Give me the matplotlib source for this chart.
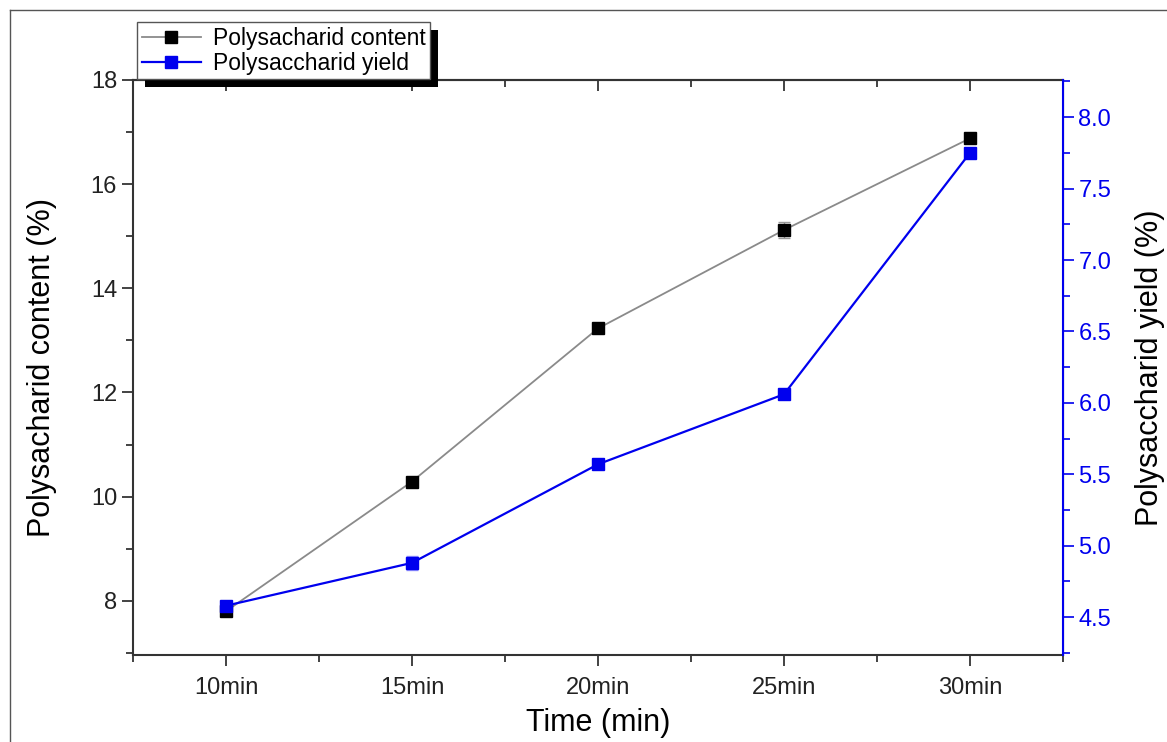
import numpy as np
import matplotlib
matplotlib.use("Agg")
import matplotlib.pyplot as plt
from matplotlib.lines import Line2D
from matplotlib.patches import Rectangle
from matplotlib.ticker import MultipleLocator, FixedLocator

plt.rcParams['font.family'] = ['Liberation Sans', 'DejaVu Sans']

#%% Datos
tiempos = ['10min', '15min', '20min', '25min', '30min']
contenido = [7.80, 10.29, 13.23, 15.12, 16.88]
contenido_err = [0.05, 0.05, 0.08, 0.15, 0.06]
rendimiento = [4.58, 4.88, 5.57, 6.06, 7.75]
rendimiento_err = [0.03, 0.05, 0.02, 0.02, 0.03]

azul = '#0000ee'
x = np.arange(len(tiempos))

#%% Figura
fig = plt.figure(figsize=(11.67, 7.42), dpi=100)
ax = fig.add_axes([133/1167, 87/742, 930/1167, 575/742])
ax2 = ax.twinx()

ax.errorbar(x, contenido, yerr=contenido_err, color='#8a8a8a', lw=1.3,
            marker='s', ms=9, mfc='black', mec='black', ecolor='#999999',
            capsize=4, elinewidth=1, zorder=3)
ax2.errorbar(x, rendimiento, yerr=rendimiento_err, color=azul, lw=1.6,
             marker='s', ms=9, mfc=azul, mec=azul, ecolor='#9999ff',
             capsize=4, elinewidth=1, zorder=3)

ax.set_xlim(-0.5, 4.5)
ax.set_ylim(6.96, 18)
ax2.set_ylim(4.235, 8.26)

ax.set_xticks(x)
ax.set_xticklabels(tiempos)
ax.xaxis.set_minor_locator(FixedLocator(np.arange(-0.5, 4.6, 1)))
ax.yaxis.set_major_locator(MultipleLocator(2))
ax.yaxis.set_minor_locator(MultipleLocator(1))
ax2.yaxis.set_major_locator(MultipleLocator(0.5))
ax2.yaxis.set_minor_locator(MultipleLocator(0.25))
ax2.yaxis.set_major_formatter(plt.FormatStrFormatter('%.1f'))

ax.tick_params(axis='both', which='major', direction='out', length=8, width=1.2,
               labelsize=17, colors='#222222')
ax.tick_params(axis='both', which='minor', direction='out', length=5, width=1.2,
               colors='#222222')
ax.tick_params(axis='x', which='major', pad=8)
ax2.tick_params(axis='y', which='major', direction='out', length=8, width=1.2,
                labelsize=17, colors=azul, pad=3)
ax2.tick_params(axis='y', which='minor', direction='out', length=5, width=1.2,
                colors=azul)

# ticks hacia adentro en el eje superior
top = ax.secondary_xaxis('top')
top.set_xticks(x)
top.xaxis.set_minor_locator(FixedLocator(np.arange(-0.5, 4.6, 1)))
top.tick_params(which='major', direction='in', length=8, width=1.2,
                labeltop=False, colors='#222222')
top.tick_params(which='minor', direction='in', length=5, width=1.2,
                colors='#222222')
top.spines['top'].set_linewidth(1.5)
top.spines['top'].set_color('#333333')

for lado in ['left', 'bottom', 'top']:
    ax.spines[lado].set_linewidth(1.5)
    ax.spines[lado].set_color('#333333')
ax2.spines['right'].set_color(azul)
ax2.spines['right'].set_linewidth(1.5)
for lado in ['left', 'bottom', 'top']:
    ax2.spines[lado].set_visible(False)

ax.set_xlabel('Time (min)', fontsize=22, labelpad=6)
ax.set_ylabel('Polysacharid content (%)', fontsize=22, labelpad=24)
ax2.set_ylabel('Polysaccharid yield (%)', fontsize=22, labelpad=17)

#%% Leyenda con sombra
h1 = Line2D([], [], color='#8a8a8a', lw=1.3, marker='s', ms=9, mfc='black', mec='black')
h2 = Line2D([], [], color=azul, lw=1.6, marker='s', ms=9, mfc=azul, mec=azul)
leg = fig.legend([h1, h2], ['Polysacharid content', 'Polysaccharid yield'],
                 loc='upper left', bbox_to_anchor=(137/1167, 1 - 22/742),
                 fontsize=16.5, frameon=True, fancybox=False,
                 edgecolor='#555555', framealpha=1, handlelength=2.6,
                 borderpad=0.2, labelspacing=0.1, handletextpad=0.5,
                 borderaxespad=0)
leg.get_frame().set_linewidth(1)
fig.canvas.draw()
bb = leg.get_window_extent()
fig.patches.append(Rectangle((bb.x0 + 8, bb.y0 - 8), bb.width, bb.height,
                             transform=None, facecolor='black', zorder=4))

# marco exterior
fig.add_artist(Line2D([10/1167, 10/1167], [0, 1 - 10/742], transform=fig.transFigure,
                      color='#555555', lw=1))
fig.add_artist(Line2D([10/1167, 1], [1 - 10/742, 1 - 10/742], transform=fig.transFigure,
                      color='#555555', lw=1))

fig.savefig('out.png', dpi=100)
